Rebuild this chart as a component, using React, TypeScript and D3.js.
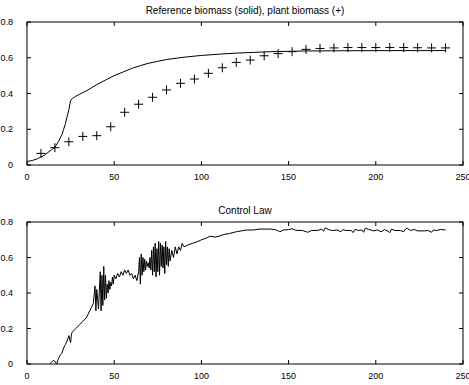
import React from "react";
import * as d3 from "d3";

const refX = [0, 3, 6, 8, 10, 12, 14, 16, 18, 20, 21, 22, 23, 24, 25, 26, 28, 30, 35, 40, 45, 50, 55, 60, 65, 70, 75, 80, 90, 100, 110, 120, 130, 140, 150, 160, 180, 200, 220, 240];
const refY = [0.02, 0.025, 0.035, 0.045, 0.055, 0.07, 0.085, 0.1, 0.13, 0.17, 0.2, 0.23, 0.27, 0.31, 0.36, 0.372, 0.385, 0.395, 0.42, 0.45, 0.475, 0.5, 0.52, 0.54, 0.556, 0.57, 0.58, 0.59, 0.603, 0.613, 0.62, 0.626, 0.63, 0.634, 0.636, 0.638, 0.639, 0.64, 0.64, 0.64];

const plantX = [8, 16, 24, 32, 40, 48, 56, 64, 72, 80, 88, 96, 104, 112, 120, 128, 136, 144, 152, 160, 168, 176, 184, 192, 200, 208, 216, 224, 232, 240];
const plantY = [0.065, 0.097, 0.13, 0.16, 0.164, 0.214, 0.295, 0.34, 0.379, 0.42, 0.457, 0.481, 0.513, 0.544, 0.574, 0.587, 0.611, 0.623, 0.634, 0.647, 0.652, 0.655, 0.657, 0.657, 0.657, 0.657, 0.657, 0.656, 0.655, 0.655];

const ctrlX = [13, 14, 15, 16, 17, 18, 19, 20, 21, 22, 23, 24, 25, 25.5, 26, 28, 30, 32, 34, 35, 36, 37, 38, 39, 39.5, 40, 41, 42, 42.5, 43, 43.5, 44, 44.5, 45, 45.5, 46, 46.5, 47, 47.5, 48, 48.5, 49, 49.5, 50, 51, 52, 53, 54, 55, 56, 57, 58, 59, 60, 61, 62, 63, 64, 64.5, 65, 65.5, 66, 66.5, 67, 67.5, 68, 68.5, 69, 69.5, 70, 70.5, 71, 71.5, 72, 72.5, 73, 73.5, 74, 74.5, 75, 75.5, 76, 76.5, 77, 77.5, 78, 78.5, 79, 79.5, 80, 80.5, 81, 81.5, 82, 83, 84, 85, 86, 87, 88, 89, 90, 92, 95, 98, 100, 103, 105, 108, 110, 113, 116, 120, 123, 126, 130, 133, 136, 140, 143, 145, 147, 150, 152, 154, 158, 161, 163, 167, 169, 170, 171, 173, 175, 178, 180, 181, 183, 186, 187, 188, 190, 192, 193, 194, 196, 199, 201, 203, 205, 207, 208, 209, 211, 214, 216, 217, 218, 220, 222, 224, 228, 230, 232, 233, 235, 237, 240];
const ctrlY = [0, 0.01, 0.02, 0.015, 0.0, 0.03, 0.05, 0.06, 0.09, 0.11, 0.13, 0.16, 0.12, 0.17, 0.18, 0.2, 0.22, 0.24, 0.26, 0.28, 0.3, 0.32, 0.34, 0.44, 0.3, 0.42, 0.31, 0.52, 0.3, 0.5, 0.33, 0.55, 0.36, 0.5, 0.37, 0.45, 0.4, 0.47, 0.42, 0.46, 0.44, 0.49, 0.45, 0.5, 0.48, 0.51, 0.49, 0.52, 0.5, 0.53, 0.51, 0.53, 0.5, 0.51, 0.48, 0.5, 0.47, 0.52, 0.6, 0.45, 0.62, 0.5, 0.6, 0.52, 0.59, 0.53, 0.58, 0.55, 0.57, 0.54, 0.6, 0.53, 0.64, 0.5, 0.66, 0.52, 0.68, 0.49, 0.65, 0.52, 0.69, 0.5, 0.68, 0.55, 0.67, 0.54, 0.66, 0.51, 0.69, 0.56, 0.66, 0.55, 0.65, 0.58, 0.64, 0.6, 0.66, 0.62, 0.66, 0.64, 0.68, 0.66, 0.67, 0.68, 0.69, 0.7, 0.71, 0.72, 0.715, 0.72, 0.73, 0.735, 0.745, 0.75, 0.755, 0.755, 0.76, 0.76, 0.76, 0.755, 0.745, 0.755, 0.757, 0.762, 0.753, 0.752, 0.742, 0.752, 0.753, 0.76, 0.748, 0.767, 0.757, 0.752, 0.755, 0.745, 0.757, 0.752, 0.752, 0.74, 0.758, 0.753, 0.755, 0.742, 0.765, 0.758, 0.75, 0.755, 0.745, 0.757, 0.748, 0.74, 0.76, 0.752, 0.752, 0.745, 0.76, 0.765, 0.752, 0.758, 0.75, 0.75, 0.752, 0.742, 0.755, 0.752, 0.758, 0.755];

const xTicks = [0, 50, 100, 150, 200, 250];
const yTicks = [0, 0.2, 0.4, 0.6, 0.8];
const titles = ["Reference biomass (solid), plant biomass (+)", "Control Law"];

const W = 469;
const H = 385;
const FONT = "'Liberation Sans', Arial, sans-serif";

function Panel({ top, bottom, title, children }: { top: number; bottom: number; title: string; children: (x: any, y: any) => React.ReactNode }) {
  const left = 27;
  const right = 463;
  const x = d3.scaleLinear().domain([0, 250]).range([left, right]);
  const y = d3.scaleLinear().domain([0, 0.8]).range([bottom, top]);
  const tl = 4;
  return (
    <g>
      <text x={(left + right) / 2} y={top - 8} textAnchor="middle" fontSize={10} fontFamily={FONT} fill="#000">{title}</text>
      {children(x, y)}
      <rect x={left} y={top} width={right - left} height={bottom - top} fill="none" stroke="#000" strokeWidth={1} />
      {xTicks.map((t) => (
        <g key={"x" + t}>
          <line x1={x(t)} x2={x(t)} y1={bottom} y2={bottom - tl} stroke="#000" />
          <line x1={x(t)} x2={x(t)} y1={top} y2={top + tl} stroke="#000" />
          <text x={x(t)} y={bottom + 14.5} textAnchor="middle" fontSize={9} fontFamily={FONT} fill="#000">{d3.format("")(t)}</text>
        </g>
      ))}
      {yTicks.map((t) => (
        <g key={"y" + t}>
          <line x1={left} x2={left + tl} y1={y(t)} y2={y(t)} stroke="#000" />
          <line x1={right} x2={right - tl} y1={y(t)} y2={y(t)} stroke="#000" />
          <text x={left - 14} y={y(t) + 3} textAnchor="end" fontSize={9} fontFamily={FONT} fill="#000" style={{ textAnchor: "end" }}>{t === 0 ? "0" : d3.format(".1f")(t)}</text>
        </g>
      ))}
    </g>
  );
}

export default function App() {
  const refData = refX.map((v, i) => [v, refY[i]] as [number, number]);
  const plantData = plantX.map((v, i) => [v, plantY[i]] as [number, number]);
  const ctrlData = ctrlX.map((v, i) => [v, ctrlY[i]] as [number, number]);
  return (
    <svg width={W} height={H} style={{ position: "absolute", left: 0, top: 0, background: "#fff" }}>
      <rect x={0} y={0} width={W} height={H} fill="#fff" />
      <Panel top={22} bottom={165} title={titles[0]}>
        {(x, y) => {
          const line = d3.line<[number, number]>().x((d) => x(d[0])).y((d) => y(d[1]));
          return (
            <g>
              <path d={line(refData) || ""} fill="none" stroke="#000" strokeWidth={1} />
              {plantData.map((d, i) => (
                <g key={i} stroke="#000" strokeWidth={1}>
                  <line x1={x(d[0]) - 4.5} x2={x(d[0]) + 4.5} y1={y(d[1])} y2={y(d[1])} />
                  <line x1={x(d[0])} x2={x(d[0])} y1={y(d[1]) - 4.5} y2={y(d[1]) + 4.5} />
                </g>
              ))}
            </g>
          );
        }}
      </Panel>
      <Panel top={222} bottom={364} title={titles[1]}>
        {(x, y) => {
          const line = d3.line<[number, number]>().x((d) => x(d[0])).y((d) => y(d[1]));
          return <path d={line(ctrlData) || ""} fill="none" stroke="#000" strokeWidth={1} />;
        }}
      </Panel>
    </svg>
  );
}
